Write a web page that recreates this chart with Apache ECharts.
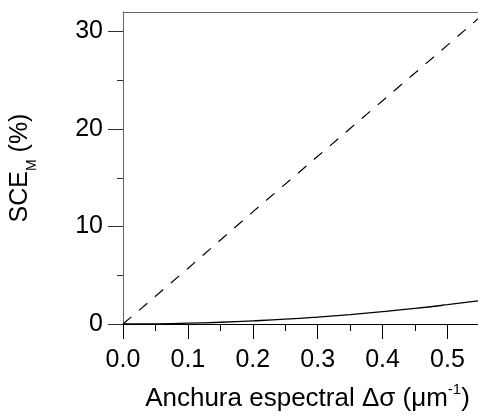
<!DOCTYPE html>
<html>
<head>
<meta charset="utf-8">
<script src="https://cdn.jsdelivr.net/npm/echarts@6/dist/echarts.min.js"></script>
<style>html,body{margin:0;padding:0;background:#fff}#c{width:478px;height:417px}</style>
</head>
<body>
<div id="c"></div>
<script>
// Data
const dashX = [0, 0.1, 0.2, 0.3, 0.4, 0.5, 0.547];
const dashY = [0, 5.7, 11.5, 17.2, 22.9, 28.6, 31.3];
const solidX = [0, 0.05, 0.1, 0.15, 0.2, 0.25, 0.3, 0.35, 0.4, 0.45, 0.5, 0.547];
const solidY = [0, 0.02, 0.08, 0.18, 0.32, 0.49, 0.71, 0.97, 1.27, 1.6, 1.98, 2.37];
const xTicks = [0, 0.1, 0.2, 0.3, 0.4, 0.5];
const yTicks = [0, 10, 20, 30];
const xMax = 0.547, yMax = 32;

const FONT = '"Liberation Sans", Arial, sans-serif';
const chart = echarts.init(document.getElementById('c'), null, {renderer: 'canvas'});
chart.setOption({
  animation: false,
  backgroundColor: '#fff',
  grid: {left: 120, top: 12, right: 0, bottom: 91, containLabel: false},
  xAxis: [{
    type: 'value', min: 0, max: xMax, interval: 0.1,
    name: '{a|Anchura espectral Δσ (μm}{s|-1}{a|)}',
    nameLocation: 'middle', nameGap: 58,
    nameTextStyle: {padding: [0, 0, 0, 14], rich: {
      a: {fontSize: 26, fontFamily: FONT, color: '#000', verticalAlign: 'bottom'},
      s: {fontSize: 15, fontFamily: FONT, color: '#000', verticalAlign: 'top', padding: [0, 0, 15, 0]}
    }},
    axisLine: {show: true, onZero: false, lineStyle: {color: '#000', width: 1}},
    axisTick: {show: true, length: 15, customValues: xTicks, lineStyle: {color: '#000'}},
    minorTick: {show: true, splitNumber: 2, length: 7, lineStyle: {color: '#000'}},
    axisLabel: {customValues: xTicks, margin: 24, fontSize: 25, fontFamily: FONT, color: '#000',
      formatter: v => v.toFixed(1)},
    splitLine: {show: false}
  }, {
    type: 'value', min: 0, max: xMax, position: 'top',
    axisLine: {show: true, onZero: false, lineStyle: {color: '#666', width: 1}},
    axisTick: {show: false}, axisLabel: {show: false}, splitLine: {show: false}
  }],
  yAxis: {
    type: 'value', min: 0, max: yMax, interval: 10,
    name: '{a|SCE}{m|M}{a| (%)}',
    nameLocation: 'middle', nameGap: 84,
    nameTextStyle: {padding: [0, 0, 0, 0], rich: {
      a: {fontSize: 25, fontFamily: FONT, color: '#000', verticalAlign: 'top'},
      m: {fontSize: 14, fontFamily: FONT, color: '#000', verticalAlign: 'bottom', padding: [17, 0, 0, 0]}
    }},
    axisLine: {show: true, onZero: false, lineStyle: {color: '#666', width: 1}},
    axisTick: {show: true, length: 15, customValues: yTicks, lineStyle: {color: '#333'}},
    minorTick: {show: true, splitNumber: 2, length: 6, lineStyle: {color: '#333'}},
    axisLabel: {customValues: yTicks, margin: 20, fontSize: 25, fontFamily: FONT, color: '#000'},
    splitLine: {show: false}
  },
  series: [{
    type: 'line', showSymbol: false, symbol: 'none',
    data: dashX.map((x, i) => [x, dashY[i]]),
    lineStyle: {color: '#000', width: 1.2, type: [11, 10]}
  }, {
    type: 'line', showSymbol: false, symbol: 'none', smooth: true,
    data: solidX.map((x, i) => [x, solidY[i]]),
    lineStyle: {color: '#000', width: 1.3}
  }]
});
</script>
</body>
</html>
